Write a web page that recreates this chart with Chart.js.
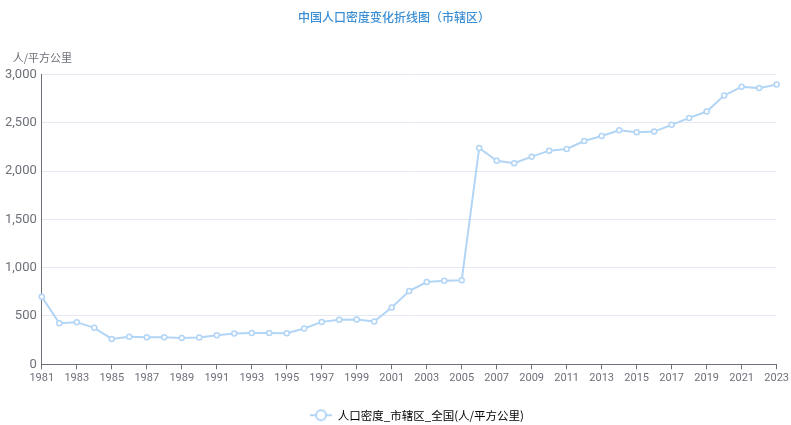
<!DOCTYPE html>
<html>
<head>
<meta charset="utf-8">
<script src="https://cdn.jsdelivr.net/npm/chart.js@4"></script>
<style>
  html, body { margin: 0; padding: 0; background: #fff; }
  #wrap { width: 791px; height: 425px; }
</style>
</head>
<body>
<div id="wrap"><canvas id="densityChart" width="791" height="425"></canvas></div>
<script>
// Data
const years = [];
for (let y = 1981; y <= 2023; y++) years.push(String(y));
const density = [
    699, 426, 436, 377, 263, 284, 280, 280, 273, 277,
    301, 318, 325, 325, 322, 370, 439, 460, 464, 443,
    588, 758, 851, 865, 869, 2239, 2107, 2080, 2149, 2211,
    2228, 2311, 2363, 2422, 2401, 2408, 2478, 2550, 2616, 2782,
    2872, 2858, 2896
];
const yTicks = [0, 500, 1000, 1500, 2000, 2500, 3000];
const seriesName = '人口密度_市辖区_全国(人/平方公里)';
const unitLabel = '人/平方公里';

const lineColor = '#b2d5f6';
const axisColor = '#6e7079';
const cjk = '"Noto Sans CJK SC", "Noto Sans", sans-serif';

// legend icon: short line with hollow circle (echarts style)
function legendIcon() {
    const c = document.createElement('canvas');
    c.width = 22; c.height = 14;
    const g = c.getContext('2d');
    g.strokeStyle = lineColor;
    g.lineWidth = 2;
    g.beginPath(); g.moveTo(0, 7); g.lineTo(22, 7); g.stroke();
    g.fillStyle = '#fff';
    g.beginPath(); g.arc(11, 7, 5, 0, Math.PI * 2); g.fill(); g.stroke();
    return c;
}
const icon = legendIcon();

// unit label above the y axis; title and legend nudged a little
const unitPlugin = {
    id: 'unitLabel',
    afterLayout(chart) {
        const lg = chart.legend;
        lg.top += 6; lg.bottom += 6;
        lg.left += 28; lg.right += 28;
        const t = chart.titleBlock;
        if (t) { t.left += 5; t.right += 5; }
    },
    afterDraw(chart) {
        const a = chart.chartArea;
        const g = chart.ctx;
        g.save();
        g.fillStyle = axisColor;
        g.font = '11px ' + cjk;
        g.textAlign = 'left';
        g.textBaseline = 'middle';
        g.fillText(unitLabel, a.left - 29, a.top - 17);
        g.restore();
    }
};

const ctx = document.getElementById('densityChart').getContext('2d');
const densityChart = new Chart(ctx, {
    type: 'line',
    data: {
        labels: years,
        datasets: [{
            label: seriesName,
            data: density,
            borderColor: lineColor,
            backgroundColor: '#fff',
            borderWidth: 2,
            pointRadius: 2.5,
            pointBorderWidth: 1.5,
            pointBackgroundColor: '#fff',
            pointBorderColor: lineColor,
            tension: 0,
            fill: false
        }]
    },
    plugins: [unitPlugin],
    options: {
        responsive: false,
        animation: false,
        layout: { padding: { left: 0, right: 13, top: 4, bottom: 0 } },
        plugins: {
            title: {
                display: true,
                text: '中国人口密度变化折线图（市辖区）',
                color: '#3a8ed4',
                font: { family: cjk, size: 12, weight: 500 },
                padding: { top: 6, bottom: 50 }
            },
            legend: {
                position: 'bottom',
                labels: {
                    usePointStyle: true,
                    pointStyleWidth: 22,
                    color: '#333',
                    font: { family: cjk, size: 11.5 },
                    padding: 2,
                    generateLabels: function(chart) {
                        return [{
                            text: seriesName,
                            pointStyle: icon,
                            fillStyle: '#fff',
                            strokeStyle: lineColor,
                            lineWidth: 0,
                            datasetIndex: 0,
                            hidden: false
                        }];
                    }
                }
            },
            tooltip: { enabled: false }
        },
        scales: {
            x: {
                offset: false,
                afterFit: function(s) { s.height += 15; },
                border: { display: true, color: axisColor, width: 1 },
                grid: {
                    drawOnChartArea: false,
                    tickLength: 5,
                    tickColor: function(c) { return c.index % 2 === 0 ? axisColor : 'rgba(0,0,0,0)'; }
                },
                ticks: {
                    autoSkip: false,
                    maxRotation: 0,
                    color: axisColor,
                    font: { family: 'Roboto, sans-serif', size: 11 },
                    padding: 2,
                    callback: function(v, i) { return i % 2 === 0 ? years[i] : ''; }
                }
            },
            y: {
                min: 0,
                max: 3000,
                afterBuildTicks: function(axis) { axis.ticks = yTicks.map(v => ({ value: v })); },
                border: { display: true, color: axisColor, width: 1 },
                grid: { color: '#e6e9f2', drawTicks: false },
                ticks: {
                    color: axisColor,
                    font: { family: 'Roboto, sans-serif', size: 13 },
                    padding: 5,
                    callback: function(v) { return v.toLocaleString('en-US'); }
                }
            }
        }
    }
});
</script>
</body>
</html>
